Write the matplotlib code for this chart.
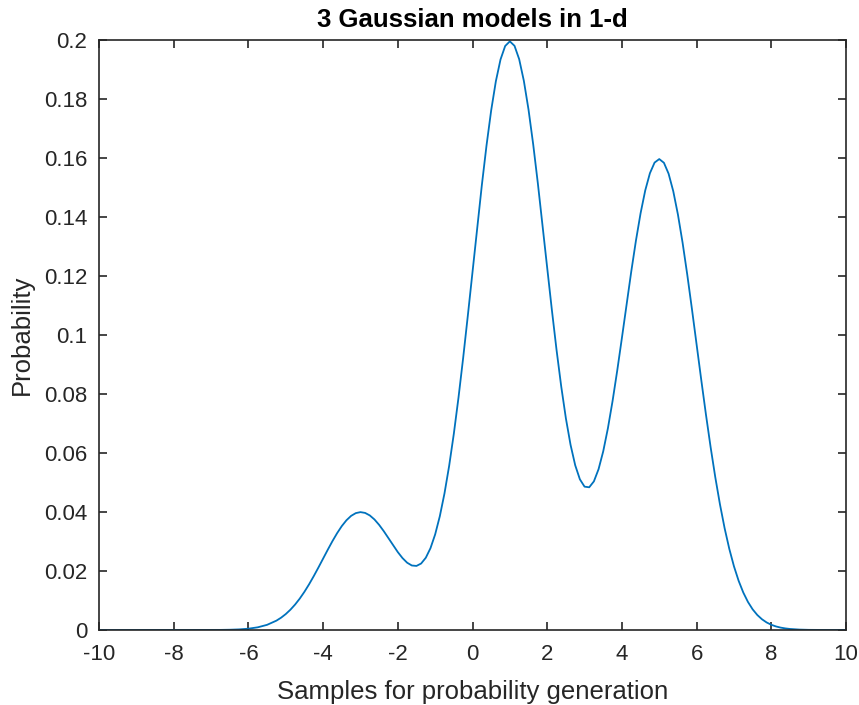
import matplotlib
matplotlib.use("Agg")
import matplotlib.pyplot as plt

x_vals = [-10, -9.5, -9, -8.5, -8, -7.5, -7, -6.75, -6.5, -6.25,
          -6, -5.75, -5.5, -5.25, -5.125, -5, -4.875, -4.75, -4.625, -4.5,
          -4.375, -4.25, -4.125, -4, -3.875, -3.75, -3.625, -3.5, -3.375, -3.25,
          -3.125, -3, -2.875, -2.75, -2.625, -2.5, -2.375, -2.25, -2.125, -2,
          -1.875, -1.75, -1.625, -1.5, -1.375, -1.25, -1.125, -1, -0.875, -0.75,
          -0.625, -0.5, -0.375, -0.25, -0.125, 0, 0.125, 0.25, 0.375, 0.5,
          0.625, 0.75, 0.875, 1, 1.125, 1.25, 1.375, 1.5, 1.625, 1.75,
          1.875, 2, 2.125, 2.25, 2.375, 2.5, 2.625, 2.75, 2.875, 3,
          3.125, 3.25, 3.375, 3.5, 3.625, 3.75, 3.875, 4, 4.125, 4.25,
          4.375, 4.5, 4.625, 4.75, 4.875, 5, 5.125, 5.25, 5.375, 5.5,
          5.625, 5.75, 5.875, 6, 6.125, 6.25, 6.375, 6.5, 6.625, 6.75,
          6.875, 7, 7.125, 7.25, 7.375, 7.5, 7.625, 7.75, 7.875, 8,
          8.125, 8.25, 8.375, 8.5, 8.75, 9, 9.25, 9.5, 10]
prob_vals = [0.0, 0.0, 0.0, 0.0, 0.0, 0.0000016, 0.0000134, 0.000035, 0.000087, 0.000203,
             0.00044, 0.00091, 0.00175, 0.00317, 0.00417, 0.00540, 0.00688, 0.00863, 0.01065, 0.01295,
             0.01550, 0.01827, 0.02119, 0.02420, 0.02721, 0.03012, 0.03282, 0.03522, 0.03720, 0.03869,
             0.03962, 0.03996, 0.03969, 0.03884, 0.03747, 0.03564, 0.03349, 0.03113, 0.02872, 0.02641,
             0.02439, 0.02281, 0.02187, 0.02172, 0.02254, 0.02450, 0.02774, 0.03240, 0.03857, 0.04631,
             0.05565, 0.06651, 0.07878, 0.09224, 0.10658, 0.12143, 0.13633, 0.15078, 0.16422, 0.17613,
             0.18599, 0.19339, 0.19797, 0.19954, 0.19802, 0.19348, 0.18615, 0.17639, 0.16462, 0.15138,
             0.13723, 0.12276, 0.10850, 0.09496, 0.08260, 0.07177, 0.06278, 0.05584, 0.05108, 0.04859,
             0.04838, 0.05038, 0.05451, 0.06057, 0.06837, 0.07761, 0.08795, 0.09900, 0.11033, 0.12147,
             0.13193, 0.14126, 0.14902, 0.15484, 0.15845, 0.15964, 0.15838, 0.15469, 0.14875, 0.14084,
             0.13127, 0.12046, 0.10882, 0.09679, 0.08475, 0.07306, 0.06200, 0.05181, 0.04262, 0.03451,
             0.02752, 0.02160, 0.01669, 0.01270, 0.00951, 0.00701, 0.00509, 0.00364, 0.00256, 0.00177,
             0.00121, 0.00081, 0.00054, 0.00035, 0.00014, 0.00005, 0.00002, 0.00001, 0.0]

x_ticks = [-10, -8, -6, -4, -2, 0, 2, 4, 6, 8, 10]
y_ticks = [0, 0.02, 0.04, 0.06, 0.08, 0.1, 0.12, 0.14, 0.16, 0.18, 0.2]
y_tick_labels = ["0", "0.02", "0.04", "0.06", "0.08", "0.1", "0.12", "0.14", "0.16", "0.18", "0.2"]

plt.rcParams['font.family'] = ['Liberation Sans', 'DejaVu Sans']
dark = '#262626'

fig = plt.figure(figsize=(8.59, 7.05), dpi=100)
ax = fig.add_axes([99/859, 1 - 630/705, (846-99)/859, (630-40)/705])
ax.plot(x_vals, prob_vals, color='#0072BD', linewidth=1.3)
ax.set_xlim(-10, 10)
ax.set_ylim(0, 0.2)
ax.set_xticks(x_ticks)
ax.set_xticklabels([str(t) for t in x_ticks])
ax.set_yticks(y_ticks)
ax.set_yticklabels(y_tick_labels)
ax.tick_params(direction='in', length=6, width=1.2, colors=dark, labelsize=16,
               top=True, right=True)
ax.tick_params(axis='x', pad=10)
ax.tick_params(axis='y', pad=8.5)
for s in ax.spines.values():
    s.set_color(dark)
    s.set_linewidth(1.2)
ax.set_xlabel('Samples for probability generation', fontsize=18.5, color=dark, labelpad=11)
ax.set_ylabel('Probability', fontsize=18.5, color=dark, labelpad=7)
ax.set_title('3 Gaussian models in 1-d', fontsize=18.5, fontweight='bold', color='black', pad=9.5)
fig.savefig('out.png', dpi=100)
